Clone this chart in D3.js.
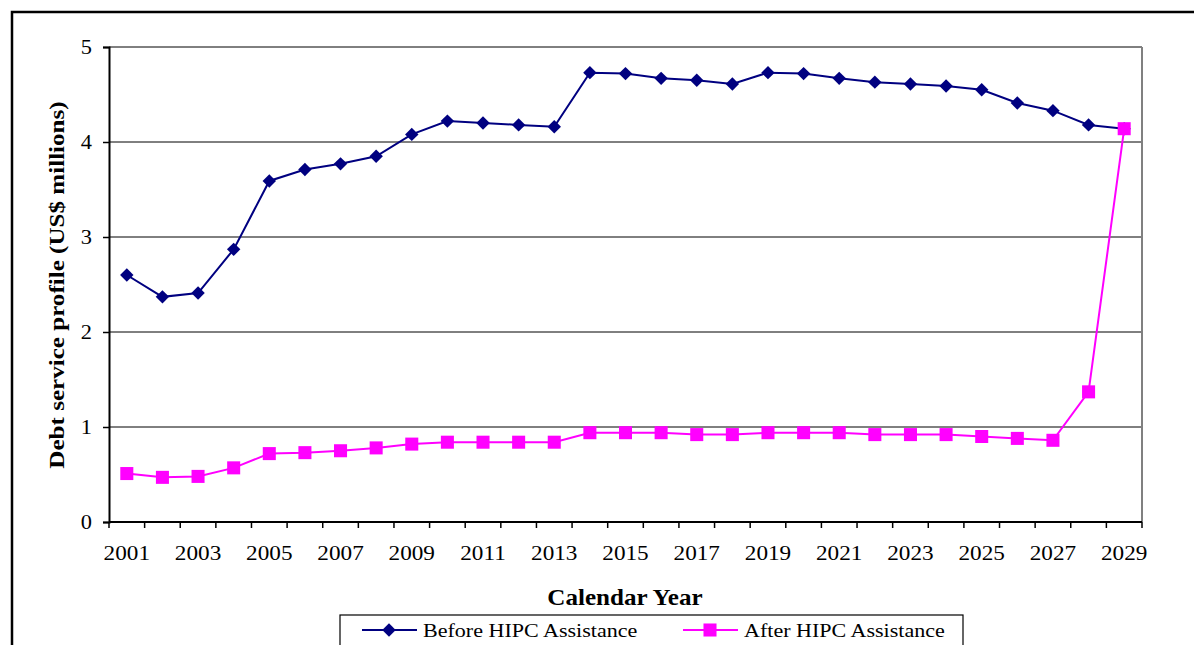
<!DOCTYPE html>
<html>
<head>
<meta charset="utf-8">
<script src="https://cdn.jsdelivr.net/npm/d3@7"></script>
<style>
  html, body { margin: 0; padding: 0; background: #ffffff; }
  svg { display: block; font-family: "Liberation Serif", "Times New Roman", serif; }
</style>
</head>
<body>
<svg id="chart" width="1194" height="645"></svg>
<script>
const years = d3.range(2001, 2030).map(String);
const yearLabels = years.filter((y, i) => i % 2 === 0);

const beforeHipc = [2.60, 2.37, 2.41, 2.87, 3.59, 3.71, 3.77, 3.85, 4.08, 4.22,
                    4.20, 4.18, 4.16, 4.73, 4.72, 4.67, 4.65, 4.61, 4.73, 4.72,
                    4.67, 4.63, 4.61, 4.59, 4.55, 4.41, 4.33, 4.18, 4.14];
const afterHipc  = [0.51, 0.47, 0.48, 0.57, 0.72, 0.73, 0.75, 0.78, 0.82, 0.84,
                    0.84, 0.84, 0.84, 0.94, 0.94, 0.94, 0.92, 0.92, 0.94, 0.94,
                    0.94, 0.92, 0.92, 0.92, 0.90, 0.88, 0.86, 1.37, 4.14];
const yTicks = [0, 1, 2, 3, 4, 5];

const seriesNames = ["Before HIPC Assistance", "After HIPC Assistance"];
const seriesColors = ["#000080", "#ff00ff"];

// the original picture is a bit wider than normal Times, so stretch text
const stretch = (sel, k) => {
  sel.each(function() {
    let w = this.getComputedTextLength();
    d3.select(this).attr("textLength", w * k).attr("lengthAdjust", "spacingAndGlyphs");
  });
}

const drawChart = () => {
  let svg = d3.select("#chart");
  let left = 109, right = 1142, top = 47, bottom = 522;

  // outer frame (top + left edges visible)
  svg.append("path")
     .attr("d", "M12,645 L12,12 L1194,12")
     .attr("fill", "none")
     .attr("stroke", "#000")
     .attr("stroke-width", 2.5);

  let x = d3.scaleBand().domain(years).range([left, right]);
  let y = d3.scaleLinear().domain([0, 5]).range([bottom, top]);

  // gridlines
  svg.append("g")
     .selectAll("line")
     .data(yTicks.filter(d => d > 0))
     .enter().append("line")
     .attr("x1", left).attr("x2", right)
     .attr("y1", d => y(d)).attr("y2", d => y(d))
     .attr("stroke", "#000").attr("stroke-width", 1);

  // right plot border
  svg.append("line")
     .attr("x1", right).attr("x2", right)
     .attr("y1", top).attr("y2", bottom)
     .attr("stroke", "#808080").attr("stroke-width", 2);

  // y axis
  let yAxis = svg.append("g")
     .attr("transform", "translate(" + left + ",0)")
     .call(d3.axisLeft(y).tickValues(yTicks).tickSize(6).tickPadding(11).tickFormat(d3.format("d")));
  yAxis.select(".domain").attr("stroke", "#000").attr("stroke-width", 2);
  yAxis.selectAll(".tick line").attr("stroke", "#000").attr("stroke-width", 1.5);
  yAxis.selectAll("text").attr("font-size", "20px").attr("font-family", "Liberation Serif").attr("fill", "#000");
  stretch(yAxis.selectAll("text"), 1.12);

  // x axis: ticks on category boundaries, labels on odd years
  let xAxis = svg.append("g")
     .attr("transform", "translate(0," + bottom + ")");
  xAxis.append("line")
     .attr("x1", left).attr("x2", right)
     .attr("stroke", "#000").attr("stroke-width", 2);
  xAxis.selectAll("line.tick")
     .data(years.concat(["end"]))
     .enter().append("line")
     .attr("class", "tick")
     .attr("x1", (d, i) => i < years.length ? x(d) : right)
     .attr("x2", (d, i) => i < years.length ? x(d) : right)
     .attr("y1", 0).attr("y2", 6)
     .attr("stroke", "#000").attr("stroke-width", 1.5);
  let xLabels = xAxis.selectAll("text")
     .data(yearLabels)
     .enter().append("text")
     .attr("x", d => x(d) + x.bandwidth() / 2)
     .attr("y", 38)
     .attr("text-anchor", "middle")
     .attr("font-size", "20px")
     .text(d => d);
  stretch(xLabels, 1.16);

  // axis titles
  let xTitle = svg.append("text")
     .attr("x", 625).attr("y", 605)
     .attr("text-anchor", "middle")
     .attr("font-size", "23px").attr("font-weight", "bold")
     .text("Calendar Year");
  stretch(xTitle, 1.09);

  let yTitle = svg.append("text")
     .attr("transform", "translate(64,285) rotate(-90)")
     .attr("text-anchor", "middle")
     .attr("font-size", "22px").attr("font-weight", "bold")
     .text("Debt service profile (US$ millions)");
  stretch(yTitle, 1.14);

  let line = d3.line()
     .x((d, i) => x(years[i]) + x.bandwidth() / 2)
     .y(d => y(d));

  const drawSeries = (values, color, shape, size) => {
    let g = svg.append("g");
    g.append("path")
     .datum(values)
     .attr("fill", "none")
     .attr("stroke", color)
     .attr("stroke-width", 2)
     .attr("d", line);
    g.selectAll("path.marker")
     .data(values)
     .enter().append("path")
     .attr("class", "marker")
     .attr("d", d3.symbol().type(shape).size(size))
     .attr("transform", (d, i) => "translate(" + (x(years[i]) + x.bandwidth() / 2) + "," + y(d) + ")")
     .attr("fill", color);
  };

  drawSeries(beforeHipc, seriesColors[0], d3.symbolDiamond2, 115);
  drawSeries(afterHipc, seriesColors[1], d3.symbolSquare, 170);

  // legend
  let legend = svg.append("g");
  legend.append("rect")
     .attr("x", 340).attr("y", 615)
     .attr("width", 623).attr("height", 40)
     .attr("fill", "#fff").attr("stroke", "#000").attr("stroke-width", 1.2);

  let items = [
    { name: seriesNames[0], color: seriesColors[0], shape: d3.symbolDiamond2, size: 115, lx: 362 },
    { name: seriesNames[1], color: seriesColors[1], shape: d3.symbolSquare, size: 170, lx: 683 }
  ];
  items.map((it) => {
    legend.append("line")
       .attr("x1", it.lx).attr("x2", it.lx + 55)
       .attr("y1", 630).attr("y2", 630)
       .attr("stroke", it.color).attr("stroke-width", 2);
    legend.append("path")
       .attr("d", d3.symbol().type(it.shape).size(it.size))
       .attr("transform", "translate(" + (it.lx + 27) + ",630)")
       .attr("fill", it.color);
    let t = legend.append("text")
       .attr("x", it.lx + 61).attr("y", 637)
       .attr("font-size", "19px")
       .text(it.name);
    stretch(t, 1.16);
  });
}

drawChart();
</script>
</body>
</html>
